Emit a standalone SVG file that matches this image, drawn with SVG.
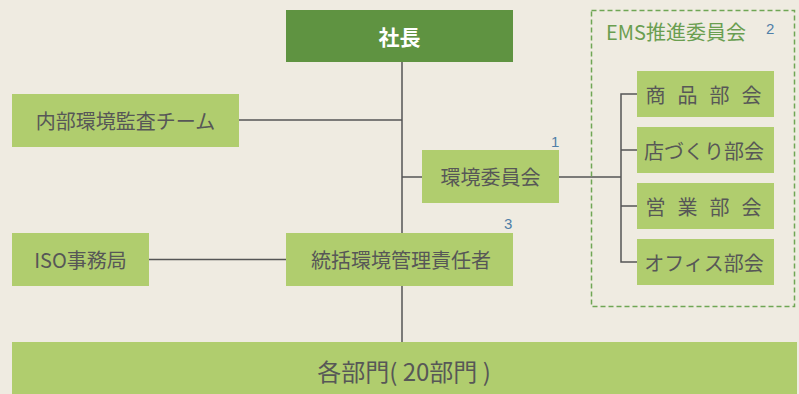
<svg xmlns="http://www.w3.org/2000/svg" width="799" height="394" viewBox="0 0 799 394">
<style>
.bx{fill:#b0cd6e}
.t{font-family:"Noto Sans CJK JP","Noto Sans",sans-serif;font-size:20px;fill:#575757;text-anchor:middle;dominant-baseline:central}
.n{font-family:"Liberation Sans",Arial,sans-serif;font-size:15px;fill:#4f7fa8}
.ln{stroke:#555;stroke-width:1.5;fill:none}
</style>
<rect width="799" height="394" fill="#efebe1"/>
<g id="connectors">
<line class="ln" x1="402" y1="62" x2="402" y2="342"/>
<line class="ln" x1="239" y1="120" x2="402" y2="120"/>
<line class="ln" x1="402" y1="177" x2="422" y2="177"/>
<line class="ln" x1="559" y1="177" x2="621" y2="177"/>
<line class="ln" x1="149" y1="259.5" x2="286" y2="259.5"/>
<polyline class="ln" points="637,94 621,94 621,262 637,262"/>
<line class="ln" x1="621" y1="150" x2="637" y2="150"/>
<line class="ln" x1="621" y1="206" x2="637" y2="206"/>
</g>
<g id="ems">
<rect x="591.5" y="10.5" width="203" height="296" fill="none" stroke="#6fa655" stroke-width="1.5" stroke-dasharray="5,3"/>
<text x="606" y="31" font-family="Noto Sans CJK JP,sans-serif" font-size="20" fill="#6a9e50" dominant-baseline="central">EMS推進委員会</text>
<text class="n" x="766" y="34">2</text>
</g>
<g id="president">
<rect x="286" y="10" width="227" height="52" fill="#5f9341"/>
<text class="t" x="399.5" y="36" style="fill:#fff;font-weight:bold;font-size:21px">社長</text>
</g>
<g id="audit">
<rect class="bx" x="12" y="94" width="227" height="53"/>
<text class="t" x="125.5" y="120">内部環境監査チーム</text>
</g>
<g id="committee">
<rect class="bx" x="422" y="150" width="137" height="53"/>
<text class="t" x="490.5" y="176">環境委員会</text>
<text class="n" x="551" y="147">1</text>
</g>
<g id="shohin">
<rect class="bx" x="637" y="71" width="137" height="46"/>
<text class="t" x="709.5" y="94" letter-spacing="12">商品部会</text>
</g>
<g id="misedukuri">
<rect class="bx" x="637" y="127" width="137" height="46"/>
<text class="t" x="704" y="150">店づくり部会</text>
</g>
<g id="eigyo">
<rect class="bx" x="637" y="183" width="137" height="46"/>
<text class="t" x="709.5" y="206" letter-spacing="12">営業部会</text>
</g>
<g id="office">
<rect class="bx" x="637" y="239" width="137" height="46"/>
<text class="t" x="704" y="262">オフィス部会</text>
</g>
<g id="iso">
<rect class="bx" x="12" y="233" width="137" height="53"/>
<text class="t" x="80.5" y="259">ISO事務局</text>
</g>
<g id="manager">
<rect class="bx" x="286" y="233" width="227" height="53"/>
<text class="t" x="401" y="259">統括環境管理責任者</text>
<text class="n" x="504" y="229">3</text>
</g>
<g id="departments">
<rect class="bx" x="12" y="342" width="785" height="52"/>
<text class="t" x="404" y="370" style="font-size:24px">各部門( 20部門 )</text>
</g>
</svg>
